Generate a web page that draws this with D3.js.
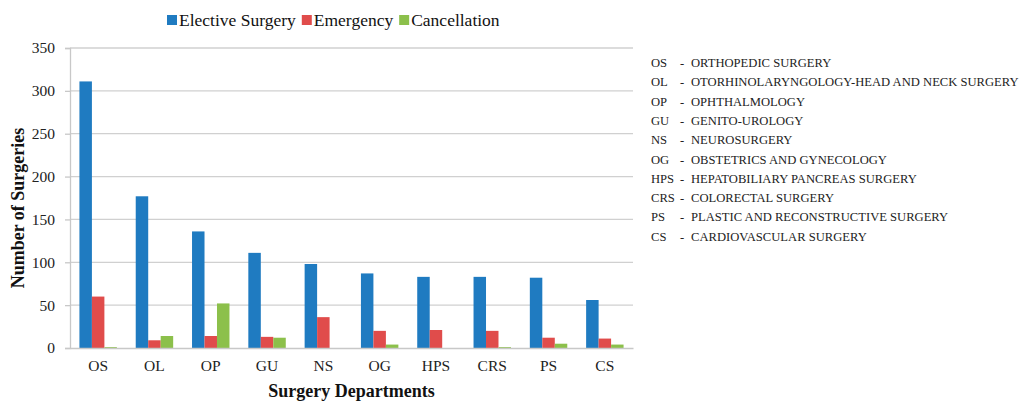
<!DOCTYPE html>
<html>
<head>
<meta charset="utf-8">
<script src="https://cdn.jsdelivr.net/npm/d3@7"></script>
<style>
  body { margin: 0; background: #fff; }
  svg { display: block; }
  text { font-family: "Liberation Serif", "Times New Roman", serif; }
</style>
</head>
<body>
<svg id="chart" width="1022" height="401"></svg>
<script>
// Data
const departments = ["OS", "OL", "OP", "GU", "NS", "OG", "HPS", "CRS", "PS", "CS"];
const departmentNames = [
    "ORTHOPEDIC SURGERY",
    "OTORHINOLARYNGOLOGY-HEAD AND NECK SURGERY",
    "OPHTHALMOLOGY",
    "GENITO-UROLOGY",
    "NEUROSURGERY",
    "OBSTETRICS AND GYNECOLOGY",
    "HEPATOBILIARY PANCREAS SURGERY",
    "COLORECTAL SURGERY",
    "PLASTIC AND RECONSTRUCTIVE SURGERY",
    "CARDIOVASCULAR SURGERY"
];
const elective = [311, 177, 136, 111, 98, 87, 83, 83, 82, 56];
const emergency = [60, 9, 14, 13, 36, 20, 21, 20, 12, 11];
const cancellation = [1, 14, 52, 12, 0, 4, 0, 1, 5, 4];
const yTicks = [0, 50, 100, 150, 200, 250, 300, 350];

const series = [
    { name: "Elective Surgery", values: elective, color: "#1f7bc1" },
    { name: "Emergency", values: emergency, color: "#e04c4b" },
    { name: "Cancellation", values: cancellation, color: "#8cc04b" }
];

const FONT = "Liberation Serif";

const svg = d3.select("#chart"),
      margin = {top: 48, right: 389, bottom: 53, left: 70},
      width = +svg.attr("width"),
      height = +svg.attr("height");

const x0 = d3.scaleBand()
    .domain(departments)
    .range([margin.left, width - margin.right])
    .paddingInner(0.335)
    .paddingOuter(0.1675);

const x1 = d3.scaleBand()
    .domain(series.map(s => s.name))
    .range([0, x0.bandwidth()]);

const y = d3.scaleLinear()
    .domain([0, 350])
    .range([height - margin.bottom, margin.top]);

// gridlines
svg.append("g")
    .selectAll("line")
    .data(yTicks.filter(t => t > 0))
    .join("line")
    .attr("x1", margin.left)
    .attr("x2", width - margin.right)
    .attr("y1", d => y(d))
    .attr("y2", d => y(d))
    .attr("stroke", "#d0d0d0")
    .attr("stroke-width", 1.3);

// left axis
const yAxis = svg.append("g")
    .attr("transform", `translate(${margin.left},0)`)
    .call(d3.axisLeft(y).tickValues(yTicks).tickSize(5).tickPadding(10))
    .attr("font-family", FONT)
    .attr("font-size", 15.5);
yAxis.select(".domain").attr("stroke", "#c8c8c8").attr("stroke-width", 1.3);
yAxis.selectAll(".tick line").attr("stroke", "#c8c8c8").attr("stroke-width", 1.3);
yAxis.selectAll(".tick text").attr("fill", "#222");

// bars
series.forEach(s => {
    svg.append("g")
        .selectAll("rect")
        .data(s.values)
        .join("rect")
        .attr("x", (d, i) => x0(departments[i]) + x1(s.name))
        .attr("y", d => y(d))
        .attr("width", x1.bandwidth())
        .attr("height", d => y(0) - y(d))
        .attr("fill", s.color);
});

// bottom axis
const xAxis = svg.append("g")
    .attr("transform", `translate(0,${height - margin.bottom})`)
    .call(d3.axisBottom(x0).tickSize(0).tickPadding(12))
    .attr("font-family", FONT)
    .attr("font-size", 15.5);
xAxis.select(".domain").attr("stroke", "#c8c8c8").attr("stroke-width", 1.3);
xAxis.selectAll(".tick text").attr("fill", "#222");

// axis titles
svg.append("text")
    .attr("x", (margin.left + width - margin.right) / 2)
    .attr("y", 397)
    .attr("text-anchor", "middle")
    .attr("font-family", FONT)
    .attr("font-size", 18)
    .attr("font-weight", "bold")
    .attr("fill", "#111")
    .text("Surgery Departments");

svg.append("text")
    .attr("transform", `translate(24,${(margin.top + height - margin.bottom) / 2 + 10}) rotate(-90)`)
    .attr("text-anchor", "middle")
    .attr("font-family", FONT)
    .attr("font-size", 18)
    .attr("font-weight", "bold")
    .attr("fill", "#111")
    .text("Number of Surgeries");

// top legend
const legend = svg.append("g").attr("transform", "translate(167,26)");
let lx = 0;
series.forEach(s => {
    const g = legend.append("g").attr("transform", `translate(${lx},0)`);
    g.append("rect").attr("x", 0).attr("y", -11).attr("width", 10).attr("height", 10).attr("fill", s.color);
    const t = g.append("text").attr("x", 12).attr("y", 0)
        .attr("font-family", FONT).attr("font-size", 17.5).attr("fill", "#111").text(s.name);
    lx += 12 + t.node().getComputedTextLength() + 6;
});

// abbreviation key on the right
const key = svg.append("g")
    .attr("font-family", FONT)
    .attr("font-size", 12.6)
    .attr("fill", "#222");
departments.forEach((d, i) => {
    const yy = 67 + i * 19.3;
    key.append("text").attr("x", 651).attr("y", yy).text(d);
    key.append("text").attr("x", 680).attr("y", yy).text("-");
    key.append("text").attr("x", 691).attr("y", yy).text(departmentNames[i]);
});
</script>
</body>
</html>
